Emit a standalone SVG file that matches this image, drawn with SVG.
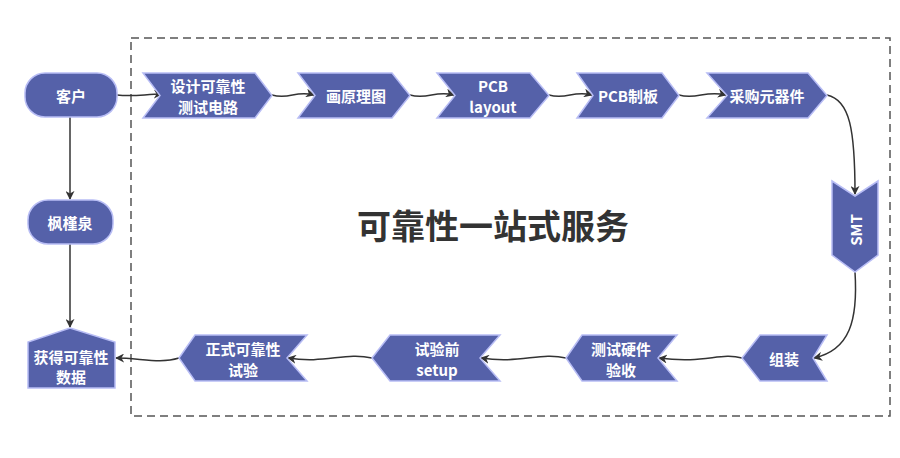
<svg xmlns="http://www.w3.org/2000/svg" width="900" height="458" viewBox="0 0 900 458">
<defs>
<marker id="ah" viewBox="0 0 10 10" refX="9" refY="5" markerWidth="9" markerHeight="9" markerUnits="userSpaceOnUse" orient="auto">
<path d="M0,0 L10,5 L0,10 L3,5 Z" fill="#333"/>
</marker>
<style>
.n{fill:#5561a9;stroke:#b8bdf5;stroke-width:1.5}
.t{fill:#fff;font-family:"Noto Sans CJK SC","Noto Sans",sans-serif;font-weight:bold;font-size:15px;text-anchor:middle;dominant-baseline:central}
.e{fill:none;stroke:#333;stroke-width:1.5;marker-end:url(#ah)}
</style>
</defs>
<rect width="900" height="458" fill="#fff"/>
<rect x="131" y="38" width="759" height="378" fill="none" stroke="#555" stroke-width="1.5" stroke-dasharray="8,5"/>
<text x="493" y="224" font-family="'Noto Sans CJK SC',sans-serif" font-weight="bold" font-size="34" fill="#333" text-anchor="middle" dominant-baseline="central">可靠性一站式服务</text>
<g id="edges">
<path class="e" d="M117,95 C135,97 145,94 162,94"/>
<path class="e" d="M272,95 C290,100 295,90 314,95"/>
<path class="e" d="M410,95 C428,100 435,90 454,95"/>
<path class="e" d="M549,95 C567,100 573,90 592,95"/>
<path class="e" d="M679,95 C697,100 705,90 726,95"/>
<path class="e" d="M827,95 C850,100 855,130 855,194"/>
<path class="e" d="M855,272 C858,320 850,350 814,358"/>
<path class="e" d="M742,358 C720,352 705,364 659,358"/>
<path class="e" d="M566,358 C540,352 520,364 481,358"/>
<path class="e" d="M372,358 C345,352 325,364 288,358"/>
<path class="e" d="M179,358 C160,364 140,358 116,358"/>
<path class="e" d="M70,117 L70,199"/>
<path class="e" d="M70,244 L70,327"/>
</g>
<g id="kehu"><rect class="n" x="25" y="73" width="92" height="44" rx="20"/><text class="t" x="71" y="95">客户</text></g>
<g id="sheji"><polygon class="n" points="143,73 255,73 272,95.5 255,118 143,118 160,95.5"/><text class="t" x="208" y="85">设计可靠性</text><text class="t" x="208" y="106">测试电路</text></g>
<g id="yuanli"><polygon class="n" points="298,73 392,73 410,95.5 392,118 298,118 315,95.5"/><text class="t" x="356" y="95.5">画原理图</text></g>
<g id="layout"><polygon class="n" points="437,73 530,73 549,95.5 530,118 437,118 455,95.5"/><text class="t" x="493" y="85">PCB</text><text class="t" x="493" y="106">layout</text></g>
<g id="zhiban"><polygon class="n" points="577,73 662,73 679,95.5 662,118 577,118 593,95.5"/><text class="t" x="628" y="95.5">PCB制板</text></g>
<g id="caigou"><polygon class="n" points="707,73 808,73 827,95.5 808,118 707,118 727,95.5"/><text class="t" x="767" y="95.5">采购元器件</text></g>
<g id="smt"><polygon class="n" points="832,181 855,196 878,181 878,255 855,272 832,255"/><text class="t" x="855" y="230" transform="rotate(-90 855 230)">SMT</text></g>
<g id="zuzhuang"><polygon class="n" points="742,358 760,335 827,335 813,358 827,381 760,381"/><text class="t" x="784" y="358">组装</text></g>
<g id="yanshou"><polygon class="n" points="566,358 582,335 677,335 658,358 677,381 582,381"/><text class="t" x="621" y="348">测试硬件</text><text class="t" x="621" y="369">验收</text></g>
<g id="setup"><polygon class="n" points="372,358 390,335 500,335 480,358 500,381 390,381"/><text class="t" x="437" y="348">试验前</text><text class="t" x="437" y="369">setup</text></g>
<g id="zhengshi"><polygon class="n" points="179,358 195,335 307,335 287,358 307,381 195,381"/><text class="t" x="243" y="348">正式可靠性</text><text class="t" x="243" y="369">试验</text></g>
<g id="fengjinquan"><rect class="n" x="28" y="200" width="85" height="44" rx="20"/><text class="t" x="70" y="222">枫槿泉</text></g>
<g id="shuju"><polygon class="n" points="70,328 115,342 115,388 28,388 28,342"/><text class="t" x="71" y="356">获得可靠性</text><text class="t" x="71" y="376">数据</text></g>
</svg>
